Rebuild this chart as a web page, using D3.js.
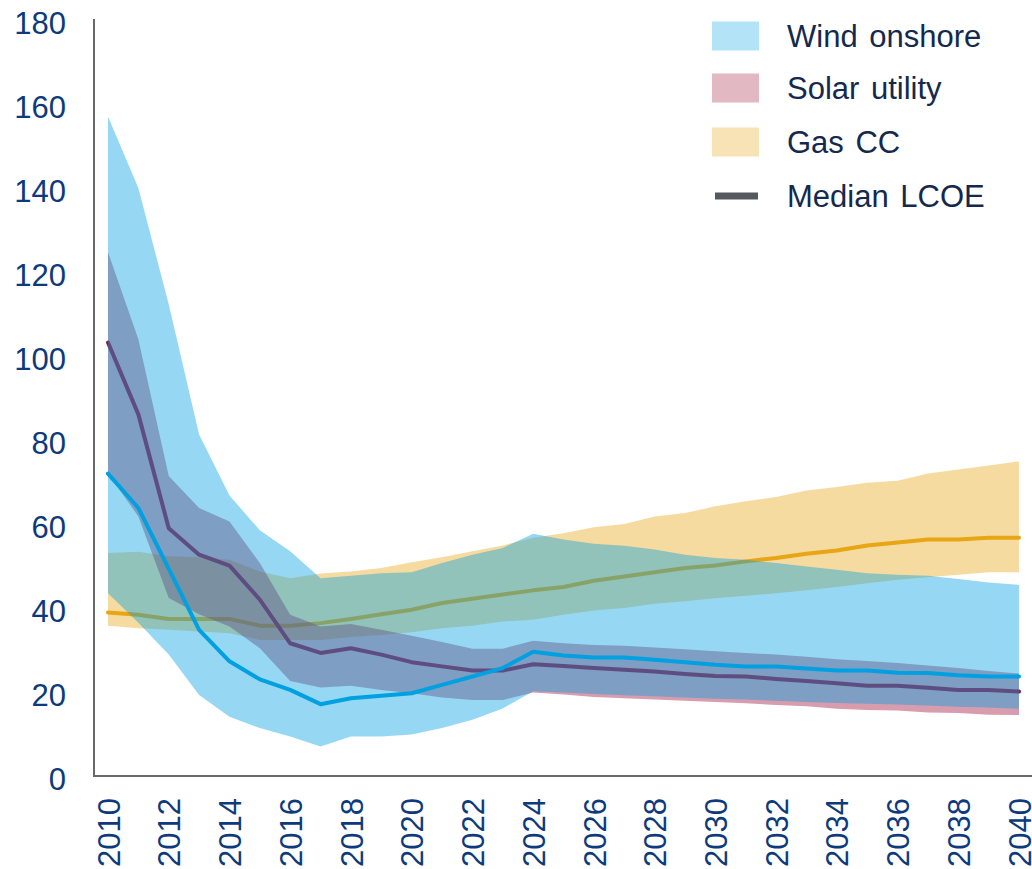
<!DOCTYPE html>
<html>
<head>
<meta charset="utf-8">
<script src="https://cdn.jsdelivr.net/npm/d3@7"></script>
<style>
  html, body { margin: 0; padding: 0; background: #ffffff; }
  svg { display: block; font-family: "Liberation Sans", Arial, sans-serif; }
</style>
</head>
<body>
<svg id="chart" width="1032" height="869"></svg>
<script>
// Levelised cost of electricity ranges, 2010-2040
const years = d3.range(2010, 2041);

const windMedian = [72.0, 63.8, 49.3, 34.8, 27.3, 23.0, 20.5, 17.1, 18.5, 19.1, 19.7, 21.7, 23.7, 25.7, 29.6, 28.7,
  28.2, 28.2, 27.7, 27.1, 26.5, 26.1, 26.1, 25.6, 25.1, 25.1, 24.6, 24.5, 24.0, 23.7, 23.7];
const windHigh = [157, 140, 112.3, 81.3, 66.8, 58.5, 53.5, 47.1, 47.7, 48.3, 48.5, 50.7, 52.7, 54.3, 57.7, 56.3,
  55.3, 54.8, 53.9, 52.7, 51.9, 51.5, 50.7, 49.9, 49.1, 48.3, 47.9, 47.7, 46.9, 46.1, 45.5];
const windLow = [43.5, 36.5, 28.9, 19.3, 14.1, 11.4, 9.4, 7.0, 9.4, 9.4, 9.9, 11.4, 13.4, 16.1, 20.2, 19.9,
  19.5, 19.2, 19.0, 18.7, 18.4, 18.2, 17.9, 17.6, 17.4, 17.2, 17.0, 16.8, 16.5, 16.3, 16.0];

const solarMedian = [103.2, 86.1, 59.0, 52.7, 50.1, 42.0, 31.6, 29.3, 30.4, 28.9, 27.1, 26.1, 25.1, 25.1, 26.6, 26.2,
  25.7, 25.3, 24.9, 24.3, 23.8, 23.7, 23.1, 22.6, 22.1, 21.5, 21.5, 21.0, 20.5, 20.5, 20.1];
const solarHigh = [124.7, 104, 71.4, 63.8, 60.6, 50.7, 38.4, 35.6, 36.2, 34.8, 33.4, 31.9, 30.3, 30.3, 32.2, 31.6,
  31.2, 31.0, 30.6, 30.2, 29.7, 29.3, 28.9, 28.4, 27.8, 27.4, 26.9, 26.3, 25.7, 25.0, 24.4];
const solarLow = [72.0, 61.8, 42.4, 38.5, 35.6, 30.4, 22.6, 21.1, 21.5, 20.5, 19.7, 18.7, 18.1, 18.1, 19.9, 19.4,
  18.8, 18.5, 18.2, 17.9, 17.6, 17.3, 16.9, 16.6, 16.0, 15.7, 15.6, 15.1, 15.0, 14.6, 14.5];

const gasMedian = [38.9, 38.4, 37.4, 37.4, 37.4, 35.8, 35.8, 36.4, 37.4, 38.5, 39.6, 41.2, 42.2, 43.2, 44.2, 45.0,
  46.5, 47.5, 48.5, 49.5, 50.1, 51.1, 51.9, 52.9, 53.7, 54.9, 55.6, 56.3, 56.3, 56.7, 56.7];
const gasHigh = [53.1, 53.4, 52.3, 52.1, 51.5, 48.7, 47.1, 48.2, 48.7, 49.5, 50.9, 52.1, 53.5, 54.9, 56.7, 57.8,
  59.2, 60.0, 61.8, 62.6, 64.2, 65.4, 66.4, 68.0, 68.8, 69.8, 70.3, 72.0, 73.0, 73.9, 74.9];
const gasLow = [35.8, 35.2, 34.8, 34.4, 34.0, 32.4, 32.4, 32.4, 33.1, 33.6, 34.2, 35.2, 35.8, 36.8, 37.2, 38.4,
  39.4, 40.0, 41.0, 41.6, 42.3, 42.9, 43.5, 44.2, 45.0, 45.9, 46.7, 47.3, 47.9, 48.5, 48.5];

const yTicks = [0, 20, 40, 60, 80, 100, 120, 140, 160, 180];
const xTicks = d3.range(2010, 2041, 2);

const legendItems = [
  { label: "Wind onshore", kind: "band", color: "#b3e3f6" },
  { label: "Solar utility", kind: "band", color: "#e2b9c2" },
  { label: "Gas CC", kind: "band", color: "#f7e3b6" },
  { label: "Median LCOE", kind: "line", color: "#55595d" }
];

// Drawing order: gas, then solar, then the translucent wind band on top
const series = [
  { name: "gas",   low: gasLow,   high: gasHigh,   median: gasMedian,   color: "#e8a514", bandOpacity: 0.40 },
  { name: "solar", low: solarLow, high: solarHigh, median: solarMedian, color: "#a0143c", bandOpacity: 0.42 },
  { name: "wind",  low: windLow,  high: windHigh,  median: windMedian,  color: "#00a0e1", bandOpacity: 0.41 }
];

const svg = d3.select("#chart");
const axisX0 = 94, axisY0 = 776;

const x = d3.scaleLinear().domain([2010, 2040]).range([108, 1019]);
const y = d3.scaleLinear().domain([0, 180]).range([776, 20]);

const area = (s) => d3.area()
  .x((d, i) => x(years[i]))
  .y0((d, i) => y(s.low[i]))
  .y1((d, i) => y(s.high[i]));

const line = (s) => d3.line()
  .x((d, i) => x(years[i]))
  .y((d, i) => y(s.median[i]));

const plot = svg.append("g");
series.forEach(s => {
  plot.append("path")
    .datum(years)
    .attr("d", area(s))
    .attr("fill", s.color)
    .attr("fill-opacity", s.bandOpacity);
  plot.append("path")
    .datum(years)
    .attr("d", line(s))
    .attr("fill", "none")
    .attr("stroke", s.color)
    .attr("stroke-width", 4)
    .attr("stroke-linejoin", "round")
    .attr("stroke-linecap", "round");
});

// Axis lines
svg.append("line")
  .attr("x1", axisX0).attr("x2", axisX0)
  .attr("y1", 19).attr("y2", axisY0 + 1)
  .attr("stroke", "#67696d").attr("stroke-width", 2);
svg.append("line")
  .attr("x1", axisX0 - 1).attr("x2", 1032)
  .attr("y1", axisY0).attr("y2", axisY0)
  .attr("stroke", "#67696d").attr("stroke-width", 2);

const tickColor = "#0d3a7c";

// Y axis labels
const yAxis = svg.append("g")
  .attr("transform", `translate(${axisX0},0)`)
  .call(d3.axisLeft(y).tickValues(yTicks).tickSize(0).tickPadding(28).tickFormat(d3.format("d")));
yAxis.select(".domain").remove();
yAxis.selectAll("text")
  .attr("dy", "0.42em")
  .attr("fill", tickColor)
  .style("font-size", "31px")
  .style("font-family", "'Liberation Sans', Arial, sans-serif");

// X axis labels, rotated
const xAxis = svg.append("g")
  .attr("transform", `translate(0,${axisY0})`)
  .call(d3.axisBottom(x).tickValues(xTicks).tickSize(0).tickFormat(d3.format("d")));
xAxis.select(".domain").remove();
xAxis.selectAll("text")
  .attr("transform", "rotate(-90)")
  .attr("x", -22)
  .attr("y", 0)
  .attr("dy", "0.36em")
  .attr("text-anchor", "end")
  .attr("fill", tickColor)
  .style("font-size", "31px")
  .style("font-family", "'Liberation Sans', Arial, sans-serif");

// Legend
const legend = svg.append("g").attr("transform", "translate(712,0)");
const rowY = [36, 88, 142, 196];
legendItems.forEach((item, i) => {
  const g = legend.append("g").attr("transform", `translate(0,${rowY[i]})`);
  if (item.kind === "band") {
    g.append("rect")
      .attr("x", 0).attr("y", -14.5)
      .attr("width", 47).attr("height", 29)
      .attr("fill", item.color);
  } else {
    g.append("rect")
      .attr("x", 3).attr("y", -3.5)
      .attr("width", 43).attr("height", 7)
      .attr("fill", item.color);
  }
  g.append("text")
    .attr("x", 75)
    .attr("y", 0)
    .attr("dy", "0.36em")
    .attr("fill", "#14294d")
    .style("font-size", "31px")
    .style("word-spacing", "3px")
    .text(item.label);
});
</script>
</body>
</html>
